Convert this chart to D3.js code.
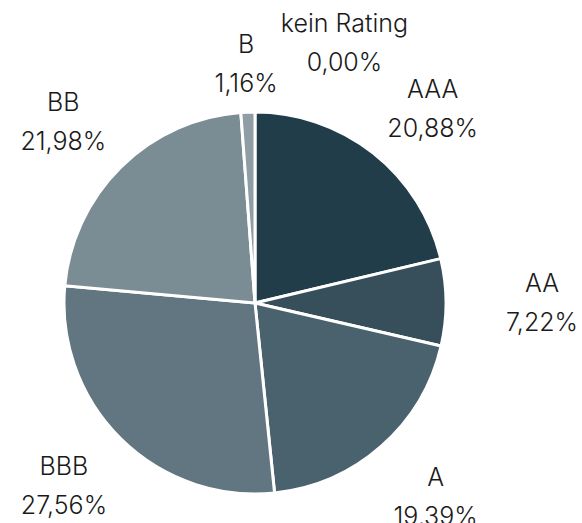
<!DOCTYPE html>
<html><head><meta charset="utf-8">
<script src="https://cdn.jsdelivr.net/npm/d3@7"></script>
<style>
html,body{margin:0;padding:0;background:#fff;}
svg text{font-family:Inter,Roboto,"Open Sans",sans-serif;font-weight:300;fill:#1a1a1a;}
</style></head>
<body><svg id="c" width="582" height="523"></svg>
<script>
const categories = ["AAA","AA","A","BBB","BB","B","kein Rating"];
const values = [20.88, 7.22, 19.39, 27.56, 21.98, 1.16, 0.00];
const valueLabels = ["20,88%","7,22%","19,39%","27,56%","21,98%","1,16%","0,00%"];

const colors = ["#213d4a","#364f5b","#4a626d","#617681","#7a8c94","#8f9ea5","#a8b4ba"];
const cx = 255, cy = 303, R = 191;

const svg = d3.select("#c");
const g = svg.append("g").attr("transform", `translate(${cx},${cy})`);

const pie = d3.pie().sort(null).value(d => d.v).startAngle(0).endAngle(2*Math.PI);
const data = categories.map((c,i)=>({c, v: values[i], lab: valueLabels[i], i}));
const arcs = pie(data);
const arc = d3.arc().innerRadius(0).outerRadius(R);

g.selectAll("path").data(arcs.filter(a=>a.data.v>0)).join("path")
  .attr("d", arc)
  .attr("fill", d => colors[d.data.i])
  .attr("stroke", "#fff").attr("stroke-width", 3).attr("stroke-linejoin","round");

// label placement: radial distance from centre, with a few layout adjustments
const labelRadius = {AA: 287, B: 240, "kein Rating": 276};
const labelAngleShift = {AAA: 0.07, A: -0.03, BBB: 0.03, BB: -0.035, "kein Rating": 0.33};
arcs.forEach(a => {
  const r = labelRadius[a.data.c] || 264;
  const ang = (a.startAngle + a.endAngle)/2 + (labelAngleShift[a.data.c] || 0);
  const x = r*Math.sin(ang), yc = -r*Math.cos(ang);
  const t = g.append("text").attr("text-anchor","middle").style("font-size","25px");
  t.append("tspan").attr("x", x).attr("y", yc - 10).text(a.data.c);
  t.append("tspan").attr("x", x).attr("y", yc + 29).text(a.data.lab);
});
</script></body></html>
